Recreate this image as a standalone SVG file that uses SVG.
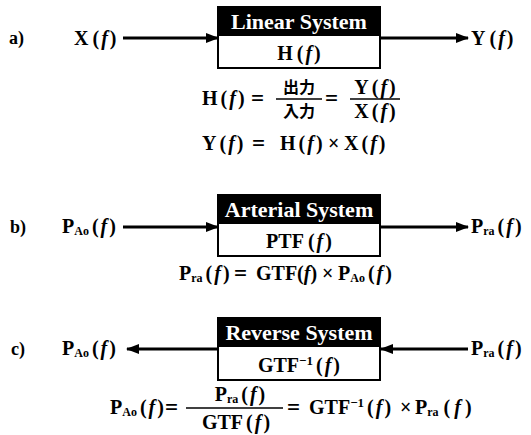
<svg xmlns="http://www.w3.org/2000/svg" width="531" height="435" viewBox="0 0 531 435">
<defs>
<style>
.t{font-family:"Liberation Serif","Times New Roman",serif;font-weight:bold;fill:#000;font-size:20px}
.hd{fill:#fff;font-size:22px;text-anchor:middle}
.m{text-anchor:middle}
.i{font-style:italic}
.s{font-size:12px}
.sp{font-size:13px}
.eq{font-size:23px}
.cjk{font-family:"Noto Sans CJK JP","Noto Sans CJK SC",sans-serif;font-weight:bold;font-size:16px;text-anchor:middle}
.lbl{font-size:18px}
.hb{fill:#000;stroke:#000;stroke-width:2}
.lb{fill:#fff;stroke:#000;stroke-width:2}
.ar{stroke:#000;stroke-width:3;fill:none}
.bar{stroke:#000;stroke-width:1.3}
</style>
<marker id="ah" markerUnits="userSpaceOnUse" markerWidth="13" markerHeight="10" refX="12" refY="5" orient="auto">
<path d="M0,0 L13,5 L0,10 z" fill="#000"/>
</marker>
</defs>
<rect width="531" height="435" fill="#fff"/>

<g id="connectors">
<line class="ar" x1="123" y1="38" x2="218" y2="38" marker-end="url(#ah)"/>
<line class="ar" x1="380" y1="38" x2="468" y2="38" marker-end="url(#ah)"/>
<line class="ar" x1="123" y1="227" x2="218" y2="227" marker-end="url(#ah)"/>
<line class="ar" x1="380" y1="227" x2="468" y2="227" marker-end="url(#ah)"/>
<line class="ar" x1="218" y1="349" x2="127" y2="349" marker-end="url(#ah)"/>
<line class="ar" x1="468" y1="349" x2="381" y2="349" marker-end="url(#ah)"/>
</g>

<g id="label-a"><text class="t lbl" x="9" y="44">a)</text></g>
<g id="label-b"><text class="t lbl" x="10" y="233">b)</text></g>
<g id="label-c"><text class="t lbl" x="11" y="355">c)</text></g>

<g id="in-a"><text class="t" x="74" y="45">X<tspan dx="4">(</tspan><tspan class="i" dx="2">f</tspan><tspan dx="2">)</tspan></text></g>
<g id="out-a"><text class="t" x="471" y="45">Y<tspan dx="4">(</tspan><tspan class="i" dx="2">f</tspan><tspan dx="2">)</tspan></text></g>

<g id="box-a">
<rect class="hb" x="218" y="7" width="162" height="28"/>
<rect class="lb" x="218" y="35" width="162" height="33"/>
<text class="t hd" x="299" y="29">Linear System</text>
<text class="t m" x="299" y="60">H<tspan dx="4">(</tspan><tspan class="i" dx="2">f</tspan><tspan dx="2">)</tspan></text>
</g>

<g id="eq-a1">
<text class="t" x="202" y="105">H<tspan dx="3">(</tspan><tspan class="i" dx="2">f</tspan><tspan dx="2">)</tspan></text>
<text class="t eq" x="251" y="106">=</text>
<line class="bar" x1="276" y1="99" x2="322" y2="99"/>
<text class="cjk" x="299" y="93">出力</text>
<text class="cjk" x="299" y="117">入力</text>
<text class="t eq" x="325" y="106">=</text>
<line class="bar" x1="350" y1="99" x2="400" y2="99"/>
<text class="t m" x="375" y="94">Y<tspan dx="3">(</tspan><tspan class="i" dx="2">f</tspan><tspan dx="2">)</tspan></text>
<text class="t m" x="375" y="118">X<tspan dx="3">(</tspan><tspan class="i" dx="2">f</tspan><tspan dx="2">)</tspan></text>
</g>

<g id="eq-a2">
<text class="t" x="202" y="150">Y<tspan dx="3">(</tspan><tspan class="i" dx="2">f</tspan><tspan dx="2">)</tspan></text>
<text class="t eq" x="252" y="151">=</text>
<text class="t" x="280" y="150">H<tspan dx="3">(</tspan><tspan class="i" dx="2">f</tspan><tspan dx="2">)</tspan></text>
<text class="t" x="328" y="150">×</text>
<text class="t" x="344" y="150">X<tspan dx="3">(</tspan><tspan class="i" dx="2">f</tspan><tspan dx="2">)</tspan></text>
</g>

<g id="in-b"><text class="t" x="62" y="233">P<tspan class="s" dy="2">Ao</tspan><tspan dx="3" dy="-2">(</tspan><tspan class="i" dx="2">f</tspan><tspan dx="2">)</tspan></text></g>
<g id="out-b"><text class="t" x="471" y="233">P<tspan class="s" dy="2">ra</tspan><tspan dx="3" dy="-2">(</tspan><tspan class="i" dx="2">f</tspan><tspan dx="2">)</tspan></text></g>

<g id="box-b">
<rect class="hb" x="218" y="195" width="162" height="28"/>
<rect class="lb" x="218" y="223" width="162" height="33"/>
<text class="t hd" x="299" y="217">Arterial System</text>
<text class="t m" x="299" y="248">PTF<tspan dx="4">(</tspan><tspan class="i" dx="2">f</tspan><tspan dx="2">)</tspan></text>
</g>

<g id="eq-b">
<text class="t" x="179" y="280">P<tspan class="s" dy="2">ra</tspan><tspan dx="3" dy="-2">(</tspan><tspan class="i" dx="2">f</tspan><tspan dx="2">)</tspan></text>
<text class="t eq" x="234" y="281">=</text>
<text class="t" x="256" y="280">GTF(<tspan class="i">f</tspan>)</text>
<text class="t" x="322" y="280">×</text>
<text class="t" x="338" y="280">P<tspan class="s" dy="2">Ao</tspan><tspan dx="3" dy="-2">(</tspan><tspan class="i" dx="2">f</tspan><tspan dx="2">)</tspan></text>
</g>

<g id="out-c"><text class="t" x="62" y="355">P<tspan class="s" dy="2">Ao</tspan><tspan dx="3" dy="-2">(</tspan><tspan class="i" dx="2">f</tspan><tspan dx="2">)</tspan></text></g>
<g id="in-c"><text class="t" x="471" y="355">P<tspan class="s" dy="2">ra</tspan><tspan dx="3" dy="-2">(</tspan><tspan class="i" dx="2">f</tspan><tspan dx="2">)</tspan></text></g>

<g id="box-c">
<rect class="hb" x="218" y="318" width="162" height="28"/>
<rect class="lb" x="218" y="346" width="162" height="34"/>
<text class="t hd" x="299" y="340">Reverse System</text>
<text class="t m" x="299" y="372">GTF<tspan class="sp" dy="-7">−1</tspan><tspan dx="3" dy="7">(</tspan><tspan class="i" dx="2">f</tspan><tspan dx="2">)</tspan></text>
</g>

<g id="eq-c">
<text class="t" x="110" y="414">P<tspan class="s" dy="2">Ao</tspan><tspan dx="3" dy="-2">(</tspan><tspan class="i" dx="2">f</tspan><tspan dx="2">)</tspan></text>
<text class="t eq" x="165" y="415">=</text>
<line class="bar" x1="186" y1="408" x2="283" y2="408"/>
<text class="t m" x="240" y="401">P<tspan class="s" dy="2">ra</tspan><tspan dx="3" dy="-2">(</tspan><tspan class="i" dx="2">f</tspan><tspan dx="2">)</tspan></text>
<text class="t m" x="236" y="429">GTF<tspan dx="3">(</tspan><tspan class="i" dx="2">f</tspan><tspan dx="2">)</tspan></text>
<text class="t eq" x="287" y="415">=</text>
<text class="t" x="309" y="414">GTF<tspan class="sp" dy="-7">−1</tspan><tspan dx="3" dy="7">(</tspan><tspan class="i" dx="2">f</tspan><tspan dx="2">)</tspan></text>
<text class="t" x="400" y="414">×</text>
<text class="t" x="415" y="414">P<tspan class="s" dy="2">ra</tspan><tspan dx="5" dy="-2">(</tspan><tspan class="i" dx="4">f</tspan><tspan dx="4">)</tspan></text>
</g>
</svg>
